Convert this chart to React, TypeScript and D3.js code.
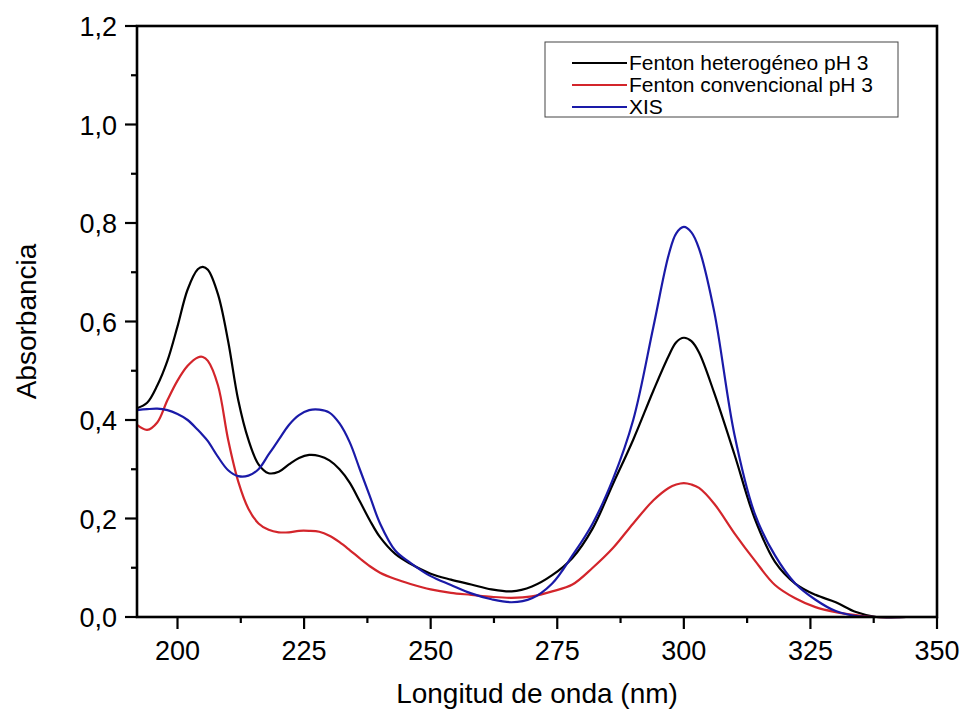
import React from "react";
import * as d3 from "d3";

const wavelengths = [192,194,196,198,200,202,204,205,206,208,210,212,214,216,218,220,222,224,226,228,230,232,234,236,238,240,243,246,250,254,258,262,266,270,274,278,282,286,290,294,297,298.5,300,301.5,303,306,310,314,318,322,326,330,334,338,344,350];

const heterogeneo = [0.424,0.435,0.47,0.52,0.59,0.665,0.706,0.711,0.705,0.655,0.56,0.44,0.36,0.31,0.292,0.295,0.31,0.323,0.329,0.327,0.318,0.3,0.273,0.235,0.196,0.162,0.128,0.108,0.088,0.076,0.066,0.056,0.052,0.062,0.085,0.12,0.18,0.27,0.36,0.46,0.53,0.558,0.567,0.56,0.537,0.455,0.33,0.2,0.112,0.068,0.045,0.03,0.01,0,0,0];

const convencional = [0.39,0.38,0.395,0.44,0.48,0.51,0.527,0.528,0.52,0.47,0.36,0.275,0.22,0.19,0.177,0.172,0.172,0.175,0.175,0.173,0.165,0.152,0.136,0.119,0.103,0.09,0.077,0.067,0.056,0.049,0.045,0.041,0.039,0.042,0.052,0.066,0.1,0.14,0.19,0.237,0.262,0.269,0.272,0.269,0.262,0.23,0.17,0.115,0.065,0.038,0.02,0.01,0.004,0,0,0];

const xis = [0.42,0.422,0.423,0.42,0.412,0.4,0.38,0.369,0.357,0.325,0.298,0.286,0.287,0.30,0.33,0.36,0.39,0.41,0.42,0.421,0.415,0.393,0.355,0.30,0.245,0.19,0.135,0.11,0.083,0.065,0.048,0.036,0.03,0.038,0.068,0.125,0.19,0.28,0.40,0.59,0.735,0.779,0.792,0.781,0.748,0.62,0.37,0.21,0.125,0.068,0.035,0.012,0.002,0,0,0];

const seriesNames = ["Fenton heterogéneo pH 3", "Fenton convencional pH 3", "XIS"];
const seriesColors = ["#000000", "#d3252b", "#1a1aa8"];
const seriesData = [heterogeneo, convencional, xis];

const xTicks = [200, 225, 250, 275, 300, 325, 350];
const yTicks = [0, 0.2, 0.4, 0.6, 0.8, 1.0, 1.2];

const W = 962, H = 713;
const L = 137, R = 937, T = 26, B = 617;
const font = "Arial, 'Liberation Sans', sans-serif";

export default function App() {
  const x = d3.scaleLinear().domain([192, 350]).range([L, R]);
  const y = d3.scaleLinear().domain([0, 1.2]).range([B, T]);
  const line = d3.line<number>()
    .x((_, i) => x(wavelengths[i]))
    .y((d) => Math.min(y(d), B))
    .curve(d3.curveCatmullRom.alpha(0.5));

  const xMinor = d3.range(212.5, 350, 25);
  const yMinor = d3.range(0.1, 1.2, 0.2);
  const fmt = (v: number) => v.toFixed(1).replace(".", ",");

  return (
    <svg width={W} height={H} style={{ position: "absolute", left: 0, top: 0, background: "#fff" }}>
      {seriesData.map((s, i) => (
        <path key={i} d={line(s) || ""} fill="none" stroke={seriesColors[i]} strokeWidth={2.2} />
      ))}
      <rect x={L} y={T} width={R - L} height={B - T} fill="none" stroke="#000" strokeWidth={2.6} />
      {xTicks.map((t) => (
        <g key={"xt" + t}>
          <line x1={x(t)} x2={x(t)} y1={B} y2={B + 12} stroke="#000" strokeWidth={2.2} />
          <text x={x(t)} y={660} textAnchor="middle" fontFamily={font} fontSize={27}>{t}</text>
        </g>
      ))}
      {xMinor.map((t) => (
        <line key={"xm" + t} x1={x(t)} x2={x(t)} y1={B} y2={B + 6} stroke="#000" strokeWidth={2.2} />
      ))}
      {yTicks.map((t) => (
        <g key={"yt" + t}>
          <line x1={L - 12} x2={L} y1={y(t)} y2={y(t)} stroke="#000" strokeWidth={2.2} />
          <text x={117} y={y(t) + 10} textAnchor="end" fontFamily={font} fontSize={27}>{fmt(t)}</text>
        </g>
      ))}
      {yMinor.map((t) => (
        <line key={"ym" + t} x1={L - 6} x2={L} y1={y(t)} y2={y(t)} stroke="#000" strokeWidth={2.2} />
      ))}
      <text x={537} y={703} textAnchor="middle" fontFamily={font} fontSize={28}>Longitud de onda (nm)</text>
      <text transform={`translate(36, ${(T + B) / 2}) rotate(-90)`} textAnchor="middle" fontFamily={font} fontSize={28}>Absorbancia</text>
      <rect x={545} y={42} width={353} height={75} fill="#fff" stroke="#444" strokeWidth={1} />
      {seriesNames.map((n, i) => (
        <g key={"lg" + i}>
          <line x1={572} x2={627} y1={63 + i * 22} y2={63 + i * 22} stroke={seriesColors[i]} strokeWidth={2.2} />
          <text x={629} y={63 + i * 22 + 7} fontFamily={font} fontSize={21}>{n}</text>
        </g>
      ))}
    </svg>
  );
}
